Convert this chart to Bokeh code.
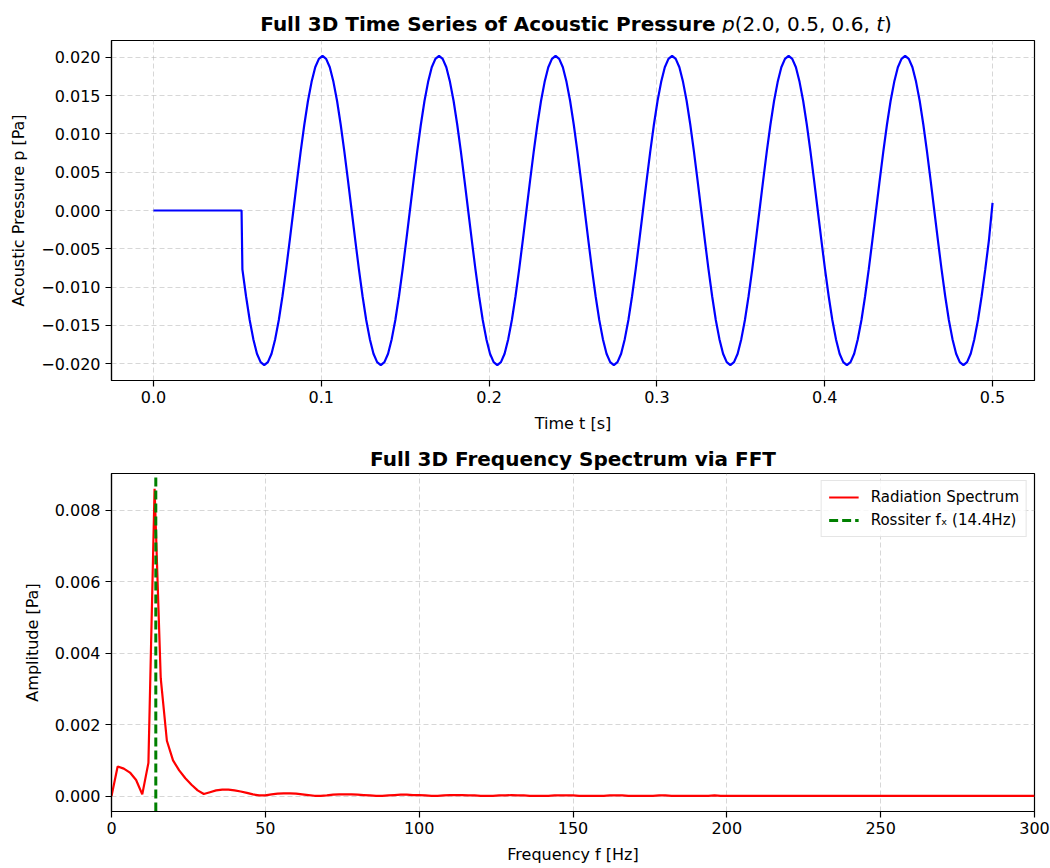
import numpy as np
from bokeh.plotting import figure
from bokeh.models import (Range1d, SingleIntervalTicker, CustomJSTickFormatter,
                          Legend, LegendItem, Div)
from bokeh.layouts import column
from bokeh.embed import file_html
from bokeh.resources import INLINE

# ---------------- data ----------------
# quiet period before the wave arrives
time_pre = [0.0, 0.0525]
pressure_pre = [0.0, 0.0]

# wave portion, sampled on a regular grid from 0.0530 s to 0.5000 s (207 samples)
wave_t_start = 0.0530
wave_t_end = 0.5000
pressure_wave = [
    -0.0077, -0.0112, -0.0143, -0.0168, -0.0187, -0.0198,
    # cycle 1
    -0.0202, -0.0198, -0.0187, -0.0168, -0.0143, -0.0112, -0.0077, -0.0039,
    0.0000, 0.0039, 0.0077, 0.0112, 0.0143, 0.0168, 0.0187, 0.0198,
    0.0202, 0.0198, 0.0187, 0.0168, 0.0143, 0.0112, 0.0077, 0.0039,
    0.0000, -0.0039, -0.0077, -0.0112, -0.0143, -0.0168, -0.0187, -0.0198,
    # cycle 2
    -0.0202, -0.0198, -0.0187, -0.0168, -0.0143, -0.0112, -0.0077, -0.0039,
    0.0000, 0.0039, 0.0077, 0.0112, 0.0143, 0.0168, 0.0187, 0.0198,
    0.0202, 0.0198, 0.0187, 0.0168, 0.0143, 0.0112, 0.0077, 0.0039,
    0.0000, -0.0039, -0.0077, -0.0112, -0.0143, -0.0168, -0.0187, -0.0198,
    # cycle 3
    -0.0202, -0.0198, -0.0187, -0.0168, -0.0143, -0.0112, -0.0077, -0.0039,
    0.0000, 0.0039, 0.0077, 0.0112, 0.0143, 0.0168, 0.0187, 0.0198,
    0.0202, 0.0198, 0.0187, 0.0168, 0.0143, 0.0112, 0.0077, 0.0039,
    0.0000, -0.0039, -0.0077, -0.0112, -0.0143, -0.0168, -0.0187, -0.0198,
    # cycle 4
    -0.0202, -0.0198, -0.0187, -0.0168, -0.0143, -0.0112, -0.0077, -0.0039,
    0.0000, 0.0039, 0.0077, 0.0112, 0.0143, 0.0168, 0.0187, 0.0198,
    0.0202, 0.0198, 0.0187, 0.0168, 0.0143, 0.0112, 0.0077, 0.0039,
    0.0000, -0.0039, -0.0077, -0.0112, -0.0143, -0.0168, -0.0187, -0.0198,
    # cycle 5
    -0.0202, -0.0198, -0.0187, -0.0168, -0.0143, -0.0112, -0.0077, -0.0039,
    0.0000, 0.0039, 0.0077, 0.0112, 0.0143, 0.0168, 0.0187, 0.0198,
    0.0202, 0.0198, 0.0187, 0.0168, 0.0143, 0.0112, 0.0077, 0.0039,
    0.0000, -0.0039, -0.0077, -0.0112, -0.0143, -0.0168, -0.0187, -0.0198,
    # cycle 6
    -0.0202, -0.0198, -0.0187, -0.0168, -0.0143, -0.0112, -0.0077, -0.0039,
    0.0000, 0.0039, 0.0077, 0.0112, 0.0143, 0.0168, 0.0187, 0.0198,
    0.0202, 0.0198, 0.0187, 0.0168, 0.0143, 0.0112, 0.0077, 0.0039,
    0.0000, -0.0039, -0.0077, -0.0112, -0.0143, -0.0168, -0.0187, -0.0198,
    # final trough and the last rise
    -0.0202, -0.0198, -0.0187, -0.0168, -0.0143, -0.0112, -0.0077, -0.0039,
    0.0010,
]

# spectrum amplitudes at 2 Hz spacing, 0 .. 300 Hz
freq_step = 2.0
spectrum_amp = [
    0.0, 0.00083, 0.00077, 0.00066, 0.00045, 0.00005, 0.00093, 0.00860, 0.00330, 0.00155,
    0.00100, 0.00072, 0.00050, 0.00032, 0.00016, 0.00006, 0.00011, 0.00016, 0.00018, 0.00018,
    0.00016, 0.00013, 0.00009, 0.00005, 0.00002, 0.00002, 0.00005, 0.00007, 0.00008, 0.00008,
    0.00007, 0.00005, 0.00003, 0.00001, 0.00001, 0.00002, 0.00004, 0.00005, 0.00005, 0.00005,
    0.00004, 0.00003, 0.00002, 0.00001, 0.00001, 0.00002, 0.00003, 0.00004, 0.00004, 0.00003,
    0.00003, 0.00002, 0.00001, 0.00001, 0.00002, 0.00003, 0.00003, 0.00003, 0.00002, 0.00002,
    0.00001, 0.00001, 0.00001, 0.00002, 0.00002, 0.00003, 0.00002, 0.00002, 0.00001, 0.00001,
    0.00001, 0.00001, 0.00002, 0.00002, 0.00002, 0.00002, 0.00001, 0.00001, 0.00001, 0.00001,
    0.00001, 0.00002, 0.00002, 0.00002, 0.00001, 0.00001, 0.00001, 0.00001, 0.00001, 0.00002,
    0.00002, 0.00001, 0.00001, 0.00001, 0.00001, 0.00001, 0.00001, 0.00001, 0.00002, 0.00001,
    0.00001, 0.00001, 0.00001, 0.00001, 0.00001, 0.00001, 0.00001, 0.00001, 0.00001, 0.00001,
    0.00001, 0.00001, 0.00001, 0.00001, 0.00001, 0.00001, 0.00001, 0.00001, 0.00001, 0.00001,
    0.00001, 0.00001, 0.00001, 0.00001, 0.00001, 0.00001, 0.00001, 0.00001, 0.00001, 0.00001,
    0.00001, 0.00001, 0.00001, 0.00001, 0.00001, 0.00001, 0.00001, 0.00001, 0.00001, 0.00001,
    0.00001, 0.00001, 0.00001, 0.00001, 0.00001, 0.00001, 0.00001, 0.00001, 0.00001, 0.00001,
    0.00001,
]

rossiter_f = 14.4

time_axis_ticks = 0.1
pressure_ticks = 0.005
freq_ticks = 50
amp_ticks = 0.002

# ---------------- build arrays ----------------
time_wave = np.linspace(wave_t_start, wave_t_end, len(pressure_wave))
time_all = list(time_pre) + list(time_wave)
pressure_all = list(pressure_pre) + list(pressure_wave)
freqs = np.arange(len(spectrum_amp)) * freq_step

FONT = "DejaVu Sans"


def fmt(decimals):
    return CustomJSTickFormatter(code="""
        const s = Math.abs(tick).toFixed(%d);
        return (tick < -1e-12 ? '\\u2212' : '') + s;
    """ % decimals)


def style(p, title):
    if title:
        p.title.text = title
        p.title.align = "center"
        p.title.text_font = FONT
        p.title.text_font_size = "20px"
        p.title.text_font_style = "bold"
        p.title.text_color = "black"
        p.title.standoff = 5
    p.outline_line_color = "black"
    p.outline_line_width = 1.2
    p.outline_line_alpha = 1
    for ax in (p.xaxis[0], p.yaxis[0]):
        ax.axis_line_color = "black"
        ax.axis_line_width = 1.2
        ax.major_tick_line_color = "black"
        ax.major_tick_line_width = 1.2
        ax.major_tick_out = 6
        ax.major_tick_in = 0
        ax.minor_tick_line_color = None
        ax.major_label_text_font = FONT
        ax.major_label_text_font_size = "16px"
        ax.major_label_text_color = "black"
        ax.axis_label_text_font = FONT
        ax.axis_label_text_font_size = "16px"
        ax.axis_label_text_font_style = "normal"
        ax.axis_label_text_color = "black"
    p.xaxis[0].major_label_standoff = 4
    p.xaxis[0].axis_label_standoff = 8
    p.yaxis[0].major_label_standoff = 5
    p.yaxis[0].axis_label_standoff = 10
    for g in (p.xgrid[0], p.ygrid[0]):
        g.grid_line_color = "#b0b0b0"
        g.grid_line_alpha = 0.5
        g.grid_line_dash = "5 3"
        g.grid_line_width = 1
    p.background_fill_color = "white"
    p.border_fill_color = "white"


# ---------------- top title (bold text + italic math part) ----------------
title_top = Div(
    text=("<div style=\"width:1050px; padding-left:102px; box-sizing:border-box; "
          "text-align:center; font-family:'DejaVu Sans'; font-size:20px; color:black; "
          "padding-top:10px; white-space:nowrap;\">"
          "<b>Full 3D Time Series of Acoustic Pressure</b> "
          "<i>p</i>(2.0, 0.5, 0.6, <i>t</i>)</div>"),
    width=1050, height=32, margin=(0, 0, 0, 0))

# ---------------- top: time series ----------------
p1 = figure(width=1050, height=408, output_backend="svg", toolbar_location=None,
            x_range=Range1d(-0.025, 0.525), y_range=Range1d(-0.0222, 0.0222),
            min_border_left=111, min_border_right=16, min_border_top=8,
            min_border_bottom=60)
p1.title.visible = False
style(p1, None)
p1.line(time_all, pressure_all, line_color="#0000ff", line_width=2.2)
p1.xaxis[0].ticker = SingleIntervalTicker(interval=time_axis_ticks)
p1.yaxis[0].ticker = SingleIntervalTicker(interval=pressure_ticks)
p1.xaxis[0].formatter = fmt(1)
p1.yaxis[0].formatter = fmt(3)
p1.xaxis[0].axis_label = "Time t [s]"
p1.yaxis[0].axis_label = "Acoustic Pressure p [Pa]"

# ---------------- bottom: spectrum ----------------
y_lo, y_hi = -0.00043, 0.00903
p2 = figure(width=1050, height=426, output_backend="svg", toolbar_location=None,
            x_range=Range1d(0, 300), y_range=Range1d(y_lo, y_hi),
            min_border_left=111, min_border_right=16, min_border_top=33,
            min_border_bottom=52)
style(p2, "Full 3D Frequency Spectrum via FFT")
r_spec = p2.line(freqs, spectrum_amp, line_color="#ff0000", line_width=2.2)
r_ross = p2.line([rossiter_f, rossiter_f], [y_lo, y_hi], line_color="#008000",
                 line_width=3, line_dash="9 4")
p2.xaxis[0].ticker = SingleIntervalTicker(interval=freq_ticks)
p2.yaxis[0].ticker = SingleIntervalTicker(interval=amp_ticks)
p2.xaxis[0].formatter = fmt(0)
p2.yaxis[0].formatter = fmt(3)
p2.xaxis[0].axis_label = "Frequency f [Hz]"
p2.yaxis[0].axis_label = "Amplitude [Pa]"

legend = Legend(items=[LegendItem(label="Radiation Spectrum", renderers=[r_spec]),
                       LegendItem(label="Rossiter f\u2093 (14.4Hz)", renderers=[r_ross])],
                location="top_right")
legend.label_text_font = FONT
legend.label_text_font_size = "15px"
legend.label_text_color = "black"
legend.glyph_width = 30
legend.glyph_height = 18
legend.label_height = 18
legend.spacing = 5
legend.padding = 7
legend.margin = 7
legend.label_standoff = 12
legend.border_line_color = "#cccccc"
legend.border_line_width = 1
legend.background_fill_alpha = 0.8
p2.add_layout(legend, "center")

layout = column(title_top, p1, p2, spacing=0)
open("out.html", "w").write(file_html(layout, INLINE))
